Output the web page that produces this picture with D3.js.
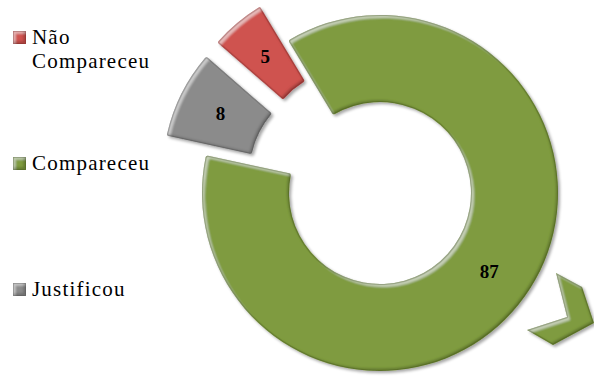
<!DOCTYPE html>
<html>
<head>
<meta charset="utf-8">
<script src="https://cdn.jsdelivr.net/npm/d3@7"></script>
<style>
  html, body { margin: 0; padding: 0; background: #fff; }
  svg { display: block; }
</style>
</head>
<body>
<svg id="chart" width="594" height="376"></svg>
<script>
// ---- data ----
const categories = ["Não Compareceu", "Compareceu", "Justificou"];
const values = [5, 87, 8];
const colors = ["#cf5250", "#7f9b40", "#8b8b8b"];
const exploded = [true, false, true];
const legendLines = [["Não", "Compareceu"], ["Compareceu"], ["Justificou"]];

// ---- layout ----
const cx = 380, cy = 193;
const outerR = 178, innerR = 91;
const explode = 44;
const startDeg = -49;
const serif = "'Liberation Serif', 'Times New Roman', Times, serif";

const svg = d3.select("#chart");
const defs = svg.append("defs");

// bevel: light inner edge toward top-left, dark inner edge toward bottom-right
const f = defs.append("filter").attr("id", "bevel")
  .attr("x", "-10%").attr("y", "-10%").attr("width", "120%").attr("height", "120%");
f.append("feOffset").attr("in", "SourceAlpha").attr("dx", 2.5).attr("dy", 2.5).attr("result", "sh1");
f.append("feComposite").attr("in", "SourceAlpha").attr("in2", "sh1").attr("operator", "out").attr("result", "hiEdge");
f.append("feGaussianBlur").attr("in", "hiEdge").attr("stdDeviation", 1.2).attr("result", "hiBlur");
f.append("feFlood").attr("flood-color", "#fff").attr("flood-opacity", 0.45).attr("result", "white");
f.append("feComposite").attr("in", "white").attr("in2", "hiBlur").attr("operator", "in").attr("result", "hi1");
f.append("feComposite").attr("in", "hi1").attr("in2", "SourceAlpha").attr("operator", "in").attr("result", "hi");
f.append("feOffset").attr("in", "SourceAlpha").attr("dx", -2.5).attr("dy", -2.5).attr("result", "sh2");
f.append("feComposite").attr("in", "SourceAlpha").attr("in2", "sh2").attr("operator", "out").attr("result", "loEdge");
f.append("feGaussianBlur").attr("in", "loEdge").attr("stdDeviation", 1.2).attr("result", "loBlur");
f.append("feFlood").attr("flood-color", "#000").attr("flood-opacity", 0.45).attr("result", "black");
f.append("feComposite").attr("in", "black").attr("in2", "loBlur").attr("operator", "in").attr("result", "lo1");
f.append("feComposite").attr("in", "lo1").attr("in2", "SourceAlpha").attr("operator", "in").attr("result", "lo");
// thin dark rim
f.append("feMorphology").attr("in", "SourceAlpha").attr("operator", "erode").attr("radius", 0.8).attr("result", "er");
f.append("feComposite").attr("in", "SourceAlpha").attr("in2", "er").attr("operator", "out").attr("result", "rim");
f.append("feFlood").attr("flood-color", "#000").attr("flood-opacity", 0.3).attr("result", "dark");
f.append("feComposite").attr("in", "dark").attr("in2", "rim").attr("operator", "in").attr("result", "rimDark");
const m = f.append("feMerge");
m.append("feMergeNode").attr("in", "SourceGraphic");
m.append("feMergeNode").attr("in", "hi");
m.append("feMergeNode").attr("in", "lo");
m.append("feMergeNode").attr("in", "rimDark");

// soft drop shadow
const sh = defs.append("filter").attr("id", "shadow")
  .attr("x", "-10%").attr("y", "-10%").attr("width", "130%").attr("height", "130%");
sh.append("feGaussianBlur").attr("in", "SourceAlpha").attr("stdDeviation", 1.8).attr("result", "b");
sh.append("feOffset").attr("in", "b").attr("dx", 1.5).attr("dy", 2).attr("result", "o");
sh.append("feComponentTransfer").attr("in", "o").attr("result", "oa")
  .append("feFuncA").attr("type", "linear").attr("slope", 0.35);
const sm = sh.append("feMerge");
sm.append("feMergeNode").attr("in", "oa");
sm.append("feMergeNode").attr("in", "SourceGraphic");

const rad = d => d * Math.PI / 180;
const pie = d3.pie().sort(null).value(d => d.v)
  .startAngle(rad(startDeg)).endAngle(rad(startDeg + 360));
const data = categories.map((c, i) => ({ c, v: values[i], col: colors[i], ex: exploded[i] }));
const arcs = pie(data);
const arc = d3.arc().innerRadius(innerR).outerRadius(outerR).cornerRadius(2);

const g = svg.append("g").attr("transform", `translate(${cx},${cy})`);

function offset(d) {
  if (!d.data.ex) return [0, 0];
  const a = (d.startAngle + d.endAngle) / 2;
  return [explode * Math.sin(a), -explode * Math.cos(a)];
}

const slices = g.selectAll("g.slice").data(arcs).join("g")
  .attr("class", "slice")
  .attr("transform", d => { const [x, y] = offset(d); return `translate(${x},${y})`; });

slices.append("g").attr("filter", "url(#shadow)")
  .append("path")
  .attr("d", arc)
  .attr("fill", d => d.data.col)
  .attr("filter", "url(#bevel)");

// decorative chevron fragment (relative to the ring radius), part of the original picture
const chevron = [[0.989, 0.449], [1.135, 0.528], [1.202, 0.730], [0.972, 0.854], [0.826, 0.770], [1.051, 0.697]];
g.append("g").attr("filter", "url(#shadow)")
  .append("path")
  .attr("d", d3.line()(chevron.map(p => [p[0] * outerR, p[1] * outerR])) + "Z")
  .attr("fill", colors[1])
  .attr("filter", "url(#bevel)");

// value labels
slices.append("text")
  .attr("transform", d => `translate(${arc.centroid(d)})`)
  .attr("text-anchor", "middle")
  .attr("dy", "0.35em")
  .style("font-family", serif)
  .attr("font-weight", "bold")
  .attr("font-size", 19)
  .attr("fill", "#000")
  .text(d => d.data.v);

// legend
const legendBaselines = [[44, 68], [170], [296]];
const lg = svg.append("g");
categories.forEach((c, i) => {
  const b0 = legendBaselines[i][0];
  lg.append("rect").attr("x", 13).attr("y", b0 - 13).attr("width", 13).attr("height", 13)
    .attr("fill", colors[i])
    .attr("filter", "url(#bevel)");
  legendLines[i].forEach((t, j) => {
    lg.append("text").attr("x", 32).attr("y", legendBaselines[i][j])
      .style("font-family", serif).attr("font-size", 21).attr("letter-spacing", 1.2)
      .attr("fill", "#000").text(t);
  });
});
</script>
</body>
</html>
